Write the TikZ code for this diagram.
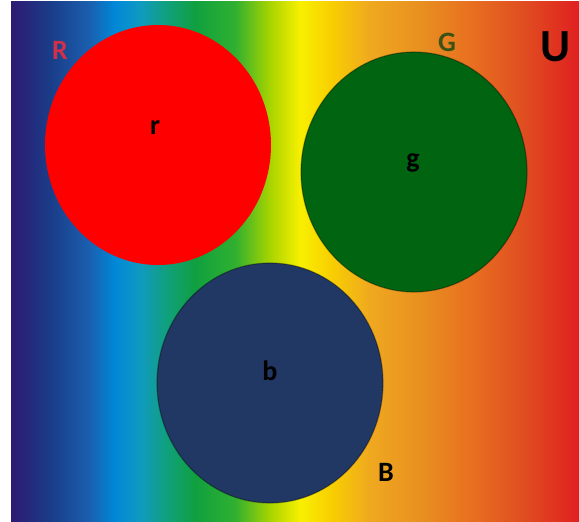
\documentclass[tikz,border=0pt]{standalone}
\usepackage{fontspec}
\setmainfont{Carlito}
\definecolor{c0}{HTML}{2E1A72}
\definecolor{c1}{HTML}{1A3C88}
\definecolor{c2}{HTML}{1A60B0}
\definecolor{c3}{HTML}{0088D8}
\definecolor{c4}{HTML}{109AC0}
\definecolor{c5}{HTML}{10A080}
\definecolor{c6}{HTML}{10A040}
\definecolor{c7}{HTML}{30B030}
\definecolor{c8}{HTML}{A8D400}
\definecolor{c9}{HTML}{F8F000}
\definecolor{c10}{HTML}{F8D000}
\definecolor{c11}{HTML}{F0A820}
\definecolor{c12}{HTML}{E89020}
\definecolor{c13}{HTML}{E87020}
\definecolor{c14}{HTML}{E05020}
\definecolor{c15}{HTML}{E02020}
\definecolor{setred}{HTML}{FF0000}
\definecolor{setgreen}{HTML}{006410}
\definecolor{setblue}{HTML}{213864}
\definecolor{labR}{HTML}{D03048}
\definecolor{labG}{HTML}{3A5214}
\pgfdeclarehorizontalshading{rainbowbg}{100bp}{
color(0bp)=(c0);
color(25bp)=(c0);
color(28.43bp)=(c1);
color(31.95bp)=(c2);
color(34.16bp)=(c3);
color(36.36bp)=(c4);
color(38.56bp)=(c5);
color(41.20bp)=(c6);
color(44.72bp)=(c7);
color(47.80bp)=(c8);
color(50.44bp)=(c9);
color(53.08bp)=(c10);
color(56.60bp)=(c11);
color(61.00bp)=(c12);
color(65.40bp)=(c13);
color(69.81bp)=(c14);
color(75bp)=(c15);
color(100bp)=(c15)}
\begin{document}
\begin{tikzpicture}[x=1pt,y=-1pt,
  setname/.style={font=\fontsize{28}{28}\selectfont\bfseries, inner sep=0pt},
  elem/.style={font=\fontsize{28}{28}\selectfont\bfseries, inner sep=0pt, text=black},
  edge/.style={draw=black, draw opacity=0.35, line width=1.2pt}]
\useasboundingbox (0,0) rectangle (579,522);
\fill[white] (0,0) rectangle (579,522);
\shade[shading=rainbowbg] (11,1) rectangle (579,522);
\fill[setred] (158,145) ellipse [x radius=113, y radius=120];
\path[fill=setgreen, edge] (414,172) ellipse [x radius=113, y radius=120];
\path[fill=setblue, edge] (270,383) ellipse [x radius=113, y radius=120];
\node[elem] (r) at (155,128) {r};
\node[elem] (g) at (413,163) {g};
\node[elem] (b) at (270,371) {b};
\node[setname, text=labR] (R) at (60,50) {R};
\node[setname, text=labG] (G) at (447,42) {G};
\node[setname, text=black] (B) at (386,472) {B};
\node[font=\fontsize{46}{46}\selectfont\bfseries, inner sep=0pt] (U) at (556,47) {U};
\end{tikzpicture}
\end{document}
